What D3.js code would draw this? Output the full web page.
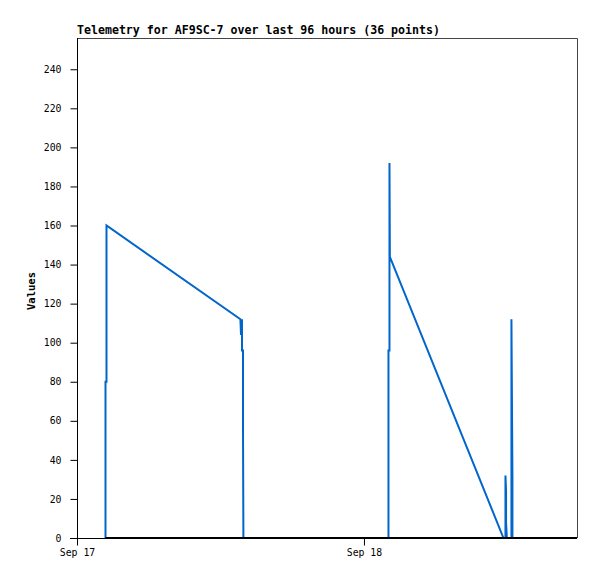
<!DOCTYPE html>
<html><head><meta charset="utf-8">
<script src="https://cdn.jsdelivr.net/npm/d3@7"></script>
<style>
html,body{margin:0;padding:0;background:#fff;}
svg{display:block;}
text{font-family:"DejaVu Sans Mono",monospace;}
</style></head>
<body>
<script>
const titleText = "Telemetry for AF9SC-7 over last 96 hours (36 points)";
const yLabel = "Values";
const times = [
 "2023-09-17T02:23","2023-09-17T02:23","2023-09-17T02:28","2023-09-17T02:28",
 "2023-09-17T13:40","2023-09-17T13:43","2023-09-17T13:48","2023-09-17T13:48","2023-09-17T13:53","2023-09-17T13:53","2023-09-17T13:55",
 "2023-09-18T02:03","2023-09-18T02:03","2023-09-18T02:08","2023-09-18T02:08","2023-09-18T02:10",
 "2023-09-18T11:40","2023-09-18T11:50","2023-09-18T11:50","2023-09-18T11:53","2023-09-18T11:53","2023-09-18T11:57",
 "2023-09-18T12:20","2023-09-18T12:20","2023-09-18T12:25","2023-09-18T12:25"
];
const values = [
 0,80,80,160,
 112,104,112,96,96,56,0,
 0,96,96,192,144,
 0,0,32,24,8,0,
 0,112,32,0
];
const yTicks = [0,20,40,60,80,100,120,140,160,180,200,220,240];
const xTickDates = ["2023-09-17T00:00","2023-09-18T00:00"];
const xTickLabels = ["Sep 17","Sep 18"];
const xDomain = ["2023-09-17T00:00","2023-09-18T17:49"];
const yDomain = [0,256];

const W=597,H=579;
const L=77,R=577,T=38,B=538;
const parse = s => new Date(s);
const x = d3.scaleTime().domain(xDomain.map(parse)).range([L,R]);
const y = d3.scaleLinear().domain(yDomain).range([B,T]);

const svg = d3.select("body").append("svg").attr("width",W).attr("height",H);

svg.append("text").attr("x",L).attr("y",34).attr("font-size","11.6px").attr("font-weight","bold")
 .attr("fill","#000").text(titleText);

// frame top/right
svg.append("path").attr("d",`M${L},${T+0.5}H${R+0.5}V${B}`).attr("fill","none").attr("stroke","#444").attr("stroke-width",1);

const data = times.map((t,i)=>({t:parse(t),v:values[i]}));
const line = d3.line().x(d=>x(d.t)).y(d=>y(d.v));
svg.append("path").datum(data).attr("d",line).attr("fill","none").attr("stroke","#0066cc").attr("stroke-width",2).attr("stroke-linejoin","miter");

// y axis
const yAxis = d3.axisLeft(y).tickValues(yTicks).tickSize(7).tickPadding(9);
const gy = svg.append("g").attr("transform",`translate(${L+0.5},0)`).call(yAxis);
gy.select(".domain").attr("stroke","#000").attr("d",`M0,${T}V${B+7}`);
gy.selectAll(".tick line").attr("stroke","#000");
gy.selectAll(".tick text").attr("font-family","DejaVu Sans Mono").attr("font-size","9.8px").attr("fill","#000");

// x axis
const xAxis = d3.axisBottom(x).tickValues(xTickDates.map(parse)).tickFormat((d,i)=>xTickLabels[i]).tickSize(7).tickPadding(4);
const gx = svg.append("g").attr("transform",`translate(0,${B+0.5})`).call(xAxis);
gx.select(".domain").attr("stroke","#000").attr("d",`M${L-7},0H${R}`);
gx.selectAll(".tick line").attr("stroke","#000");
gx.selectAll(".tick text").attr("font-family","DejaVu Sans Mono").attr("font-size","9.8px").attr("fill","#000");

// zero baseline drawn over data from first point
svg.append("line").attr("x1",x(data[0].t)).attr("x2",R).attr("y1",y(0)).attr("y2",y(0))
 .attr("stroke","#000").attr("stroke-width",2);

svg.append("text").attr("transform",`translate(35,${(T+B)/2+3}) rotate(-90)`).attr("text-anchor","middle")
 .attr("font-size","10.5px").attr("font-weight","bold").attr("fill","#000").text(yLabel);
</script>
</body></html>
